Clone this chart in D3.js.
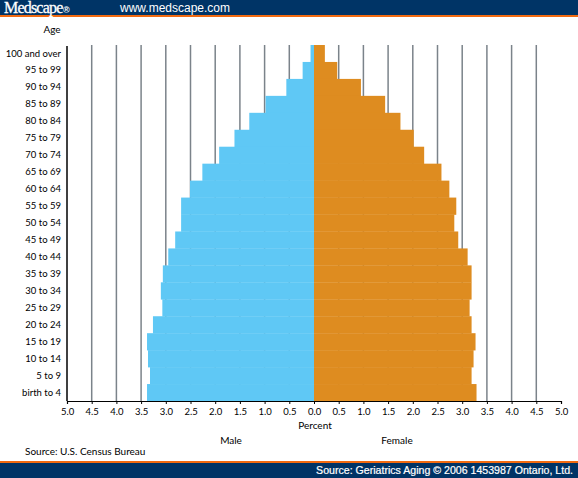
<!DOCTYPE html>
<html>
<head>
<meta charset="utf-8">
<script src="https://cdn.jsdelivr.net/npm/d3@7"></script>
<style>
  body { margin: 0; background: #fff; }
  svg { display: block; }
</style>
</head>
<body>
<div id="chart"></div>
<script>
// age groups, top to bottom
const ages = ["100 and over", "95 to 99", "90 to 94", "85 to 89", "80 to 84",
  "75 to 79", "70 to 74", "65 to 69", "60 to 64", "55 to 59", "50 to 54",
  "45 to 49", "40 to 44", "35 to 39", "30 to 34", "25 to 29", "20 to 24",
  "15 to 19", "10 to 14", "5 to 9", "birth to 4"];

// percent of population
const male = [0.07, 0.23, 0.56, 0.98, 1.31, 1.61, 1.92, 2.26, 2.51, 2.69, 2.69,
  2.81, 2.95, 3.06, 3.10, 3.07, 3.26, 3.38, 3.36, 3.32, 3.38];
const female = [0.22, 0.47, 0.95, 1.44, 1.75, 2.02, 2.23, 2.58, 2.74, 2.88, 2.84,
  2.92, 3.11, 3.19, 3.19, 3.15, 3.19, 3.27, 3.23, 3.19, 3.29];

const ticks = [-5, -4.5, -4, -3.5, -3, -2.5, -2, -1.5, -1, -0.5, 0,
  0.5, 1, 1.5, 2, 2.5, 3, 3.5, 4, 4.5, 5];

const W = 578, H = 478;
const navy = "#003466", orange = "#f26a10";
const font = "Lato, 'DejaVu Sans', sans-serif";

var svg = d3.select("#chart").append("svg")
  .attr("width", W).attr("height", H);

// header band
svg.append("rect").attr("x", 0).attr("y", 0).attr("width", W).attr("height", 15).attr("fill", navy);
svg.append("rect").attr("x", 0).attr("y", 15).attr("width", W).attr("height", 2).attr("fill", orange);
svg.append("text").attr("x", 4).attr("y", 13)
  .attr("font-family", "'Liberation Serif', serif").attr("font-size", 16)
  .attr("fill", "#fff").attr("letter-spacing", -0.8).attr("stroke", "#fff").attr("stroke-width", 0.3)
  .text("Medscape");
svg.append("text").attr("x", 63).attr("y", 12.5)
  .attr("font-family", "'Liberation Sans', sans-serif").attr("font-size", 9).attr("font-weight", "bold")
  .attr("fill", "#fff").text("®");
svg.append("text").attr("x", 120).attr("y", 12)
  .attr("font-family", "'Liberation Sans', Arial, sans-serif").attr("font-size", 12)
  .attr("fill", "#fff").text("www.medscape.com");

// footer band
svg.append("rect").attr("x", 0).attr("y", 461).attr("width", W).attr("height", 2).attr("fill", orange);
svg.append("rect").attr("x", 0).attr("y", 463).attr("width", W).attr("height", 15).attr("fill", navy);
svg.append("text").attr("x", 573).attr("y", 474).attr("text-anchor", "end")
  .attr("font-family", "'Liberation Sans', Arial, sans-serif").attr("font-size", 10.6)
  .attr("fill", "#fff").attr("stroke", "#fff").attr("stroke-width", 0.2)
  .text("Source: Geriatrics Aging \u00a9 2006 1453987 Ontario, Ltd.");

// scales
var x = d3.scaleLinear().domain([-5, 5]).range([67, 561]);
var y = d3.scaleBand().domain(ages).range([45, 401]).padding(0);

// grid lines every 0.5 (not at zero or the far right)
svg.append("g").selectAll("line")
  .data(ticks.filter(t => t !== 0 && t !== -5 && t !== 5))
  .enter().append("line")
  .attr("x1", d => x(d)).attr("x2", d => x(d))
  .attr("y1", 45).attr("y2", 401)
  .attr("stroke", "#7b838a").attr("stroke-width", 1.5);

// bars
svg.append("g").selectAll("rect")
  .data(ages)
  .enter().append("rect")
  .attr("x", (d, i) => x(-male[i]))
  .attr("y", d => y(d))
  .attr("width", (d, i) => x(0) - x(-male[i]))
  .attr("height", y.bandwidth() + 0.3)
  .attr("fill", "#5fc8f5");

svg.append("g").selectAll("rect")
  .data(ages)
  .enter().append("rect")
  .attr("x", x(0))
  .attr("y", d => y(d))
  .attr("width", (d, i) => x(female[i]) - x(0))
  .attr("height", y.bandwidth() + 0.3)
  .attr("fill", "#de8c20");

// x axis
var xAxis = svg.append("g")
  .attr("transform", "translate(0,401)")
  .call(d3.axisBottom(x).tickValues(ticks).tickSize(3).tickPadding(4)
    .tickFormat(d => Math.abs(d).toFixed(1)));
xAxis.select(".domain").attr("stroke", "#000").attr("stroke-width", 1.2);
xAxis.selectAll(".tick line").attr("stroke", "#000");
xAxis.selectAll("text").attr("font-family", font).attr("font-size", 9.5).attr("fill", "#000");

// y axis
var yAxis = svg.append("g")
  .attr("transform", "translate(67,0)")
  .call(d3.axisLeft(y).tickSize(0).tickPadding(6));
yAxis.select(".domain").attr("stroke", "#000").attr("stroke-width", 1.5)
  .attr("d", "M0,46V401");
yAxis.selectAll("text").attr("font-family", font).attr("font-size", 9.5).attr("fill", "#000");

// titles
function label(tx, ty, s, anchor) {
  svg.append("text").attr("x", tx).attr("y", ty)
    .attr("text-anchor", anchor || "middle")
    .attr("font-family", font).attr("font-size", 10).attr("fill", "#000").text(s);
}
label(52, 33, "Age");
label(315, 429, "Percent");
label(231, 444, "Male");
label(397, 444, "Female");
label(25, 455, "Source: U.S. Census Bureau", "start");
</script>
</body>
</html>
